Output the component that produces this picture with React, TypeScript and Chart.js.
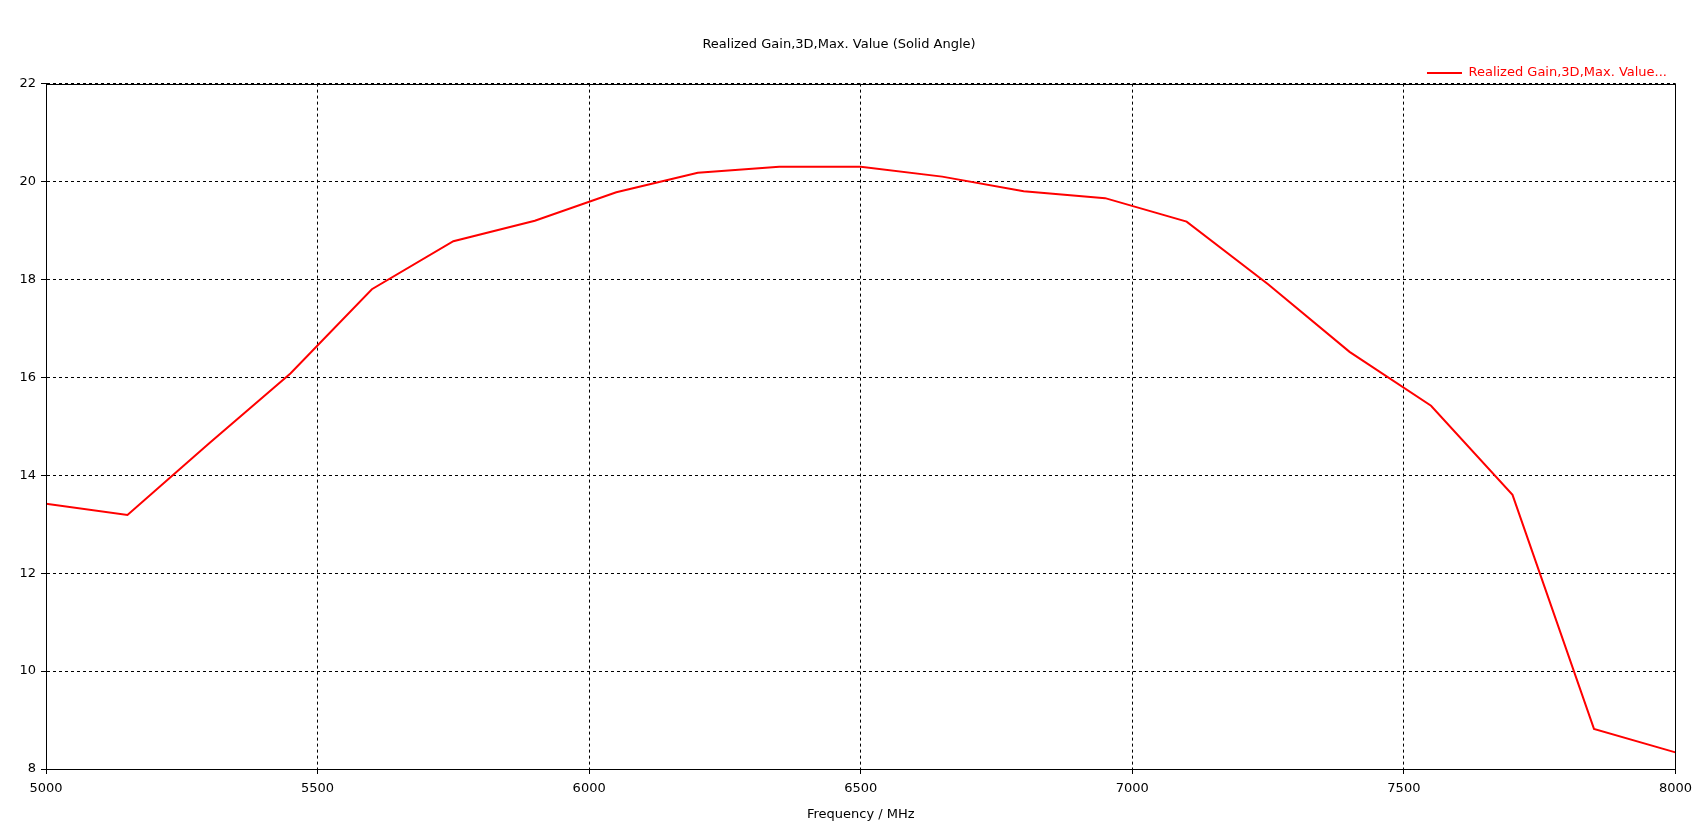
import React, { useEffect, useRef } from "react";
import { Chart, registerables } from "chart.js";

Chart.register(...registerables);

const freqs = [5000, 5150, 5300, 5450, 5600, 5750, 5900, 6050, 6200, 6350, 6500, 6650, 6800, 6950, 7100, 7250, 7400, 7550, 7700, 7850, 8000];
const gains = [13.42, 13.19, 14.65, 16.08, 17.8, 18.78, 19.2, 19.78, 20.18, 20.3, 20.3, 20.1, 19.8, 19.66, 19.18, 17.9, 16.52, 15.42, 13.6, 8.82, 8.34];

const titleText = "Realized Gain,3D,Max. Value (Solid Angle)";
const legendText = "Realized Gain,3D,Max. Value...";
const xTitle = "Frequency / MHz";
const FONT = "'DejaVu Sans', sans-serif";

const frame = {
  id: "frame",
  afterDraw(chart: any) {
    const { ctx, chartArea } = chart;
    ctx.save();
    ctx.strokeStyle = "#000";
    ctx.lineWidth = 1;
    ctx.setLineDash([]);
    const l = Math.round(chartArea.left) + 0.5;
    const t = Math.round(chartArea.top) + 0.5;
    const r = Math.round(chartArea.right) + 0.5;
    const b = Math.round(chartArea.bottom) + 0.5;
    ctx.strokeRect(l, t, r - l, b - t);
    ctx.restore();
  },
};

export default function App() {
  const ref = useRef<HTMLCanvasElement>(null);
  useEffect(() => {
    if (!ref.current) return;
    const chart = new Chart(ref.current, {
      type: "line",
      data: {
        datasets: [
          {
            label: legendText,
            data: freqs.map((f, i) => ({ x: f, y: gains[i] })),
            borderColor: "#ff0000",
            backgroundColor: "#ff0000",
            borderWidth: 2,
            pointRadius: 0,
            tension: 0,
          },
        ],
      },
      options: {
        animation: false,
        responsive: true,
        maintainAspectRatio: false,
        devicePixelRatio: 1,
        layout: { padding: { left: 0, right: 21, top: 0, bottom: 0 } },
        plugins: {
          title: {
            display: true,
            text: titleText,
            color: "#000",
            font: { family: FONT, size: 13, weight: "normal" },
            padding: { top: 37, bottom: 3 },
          },
          legend: {
            display: true,
            align: "end",
            maxHeight: 28,
            labels: {
              color: "#ff0000",
              font: { family: FONT, size: 13 },
              boxWidth: 35,
              boxHeight: 2,
              padding: 11,
              generateLabels: (c: any) =>
                Chart.defaults.plugins.legend.labels
                  .generateLabels(c)
                  .map((l: any) => ({ ...l, lineWidth: 0, fillStyle: "#ff0000" })),
            },
          },
          tooltip: { enabled: false },
        },
        scales: {
          x: {
            type: "linear",
            min: 5000,
            max: 8000,
            ticks: {
              stepSize: 500,
              color: "#000",
              font: { family: FONT, size: 13 },
              padding: 7,
              callback: (v: any) => String(v),
            },
            grid: { color: "#000", tickLength: 5, tickColor: "#000", lineWidth: 1 },
            border: { display: true, color: "#000", width: 1, dash: [3, 3] },
            title: {
              display: true,
              text: xTitle,
              color: "#000",
              font: { family: FONT, size: 13 },
              padding: { top: 4, bottom: 13 },
            },
            afterFit: (s: any) => {
              s.height = 66;
            },
          },
          y: {
            type: "linear",
            min: 8,
            max: 22,
            ticks: {
              stepSize: 2,
              color: "#000",
              font: { family: FONT, size: 13 },
              padding: 5,
              callback: (v: any) => String(v),
            },
            grid: { color: "#000", tickLength: 5, tickColor: "#000", lineWidth: 1 },
            border: { display: true, color: "#000", width: 1, dash: [3, 3] },
            afterFit: (s: any) => {
              s.width = 46;
            },
          },
        },
      },
      plugins: [frame],
    });
    return () => chart.destroy();
  }, []);
  return (
    <div style={{ position: "absolute", left: 0, top: 0, width: 1699, height: 835, background: "#fff" }}>
      <canvas ref={ref} />
    </div>
  );
}
